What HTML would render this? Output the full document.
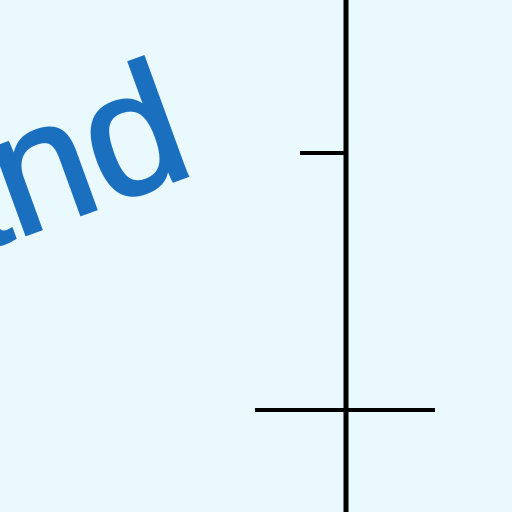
<!DOCTYPE html>
<html><head><meta charset="utf-8"><style>
html,body{margin:0;padding:0;width:512px;height:512px;overflow:hidden;background:#e9f9fd;}
.lbl{font-family:"Liberation Sans",sans-serif;font-weight:normal;}
</style></head><body>
<svg width="512" height="512" viewBox="0 0 512 512">
<rect x="0" y="0" width="512" height="512" fill="#e9f9fd"/>
<text class="lbl" x="198" y="172" text-anchor="end" transform="rotate(-20 198 172)" font-size="175" fill="#1a6fbf" stroke="#1a6fbf" stroke-width="3">and</text>
<line x1="346" y1="0" x2="346" y2="512" stroke="#000" stroke-width="5"/>
<line x1="300" y1="153" x2="346" y2="153" stroke="#000" stroke-width="4"/>
<line x1="255" y1="410" x2="435" y2="410" stroke="#000" stroke-width="4"/>
</svg>
</body></html>
